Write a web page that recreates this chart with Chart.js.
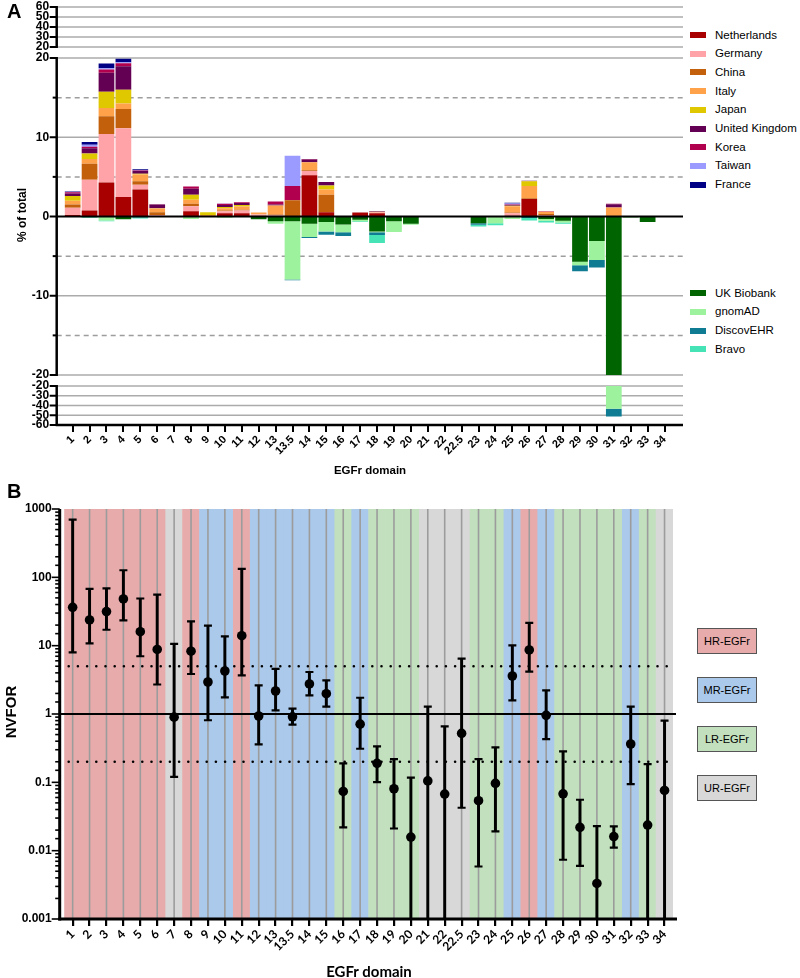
<!DOCTYPE html>
<html><head><meta charset="utf-8">
<script src="https://cdn.jsdelivr.net/npm/chart.js@4/dist/chart.umd.min.js"></script>
<style>
body{margin:0;background:#fff;width:800px;height:978px;position:relative;overflow:hidden;font-family:"Liberation Sans",Arial,sans-serif;color:#000;}
canvas{position:absolute;left:0;}
.t{position:absolute;white-space:nowrap;color:#000;}
.lg{position:absolute;left:690px;width:16px;height:6px;}
.lgt{position:absolute;left:715px;font-size:11.5px;line-height:14px;white-space:nowrap;}
.bx{position:absolute;left:697px;width:58px;height:24px;border:1px solid #555;font-size:11px;line-height:24px;text-align:center;}
</style></head><body>
<canvas id="a1" width="690" height="50" style="top:0px;width:690px;height:50px"></canvas>
<canvas id="a2" width="690" height="330" style="top:50px;width:690px;height:330px"></canvas>
<canvas id="a3" width="690" height="100" style="top:380px;width:690px;height:100px"></canvas>
<canvas id="b" width="690" height="498" style="top:480px;width:690px;height:498px"></canvas>

<div class="t" style="left:7px;top:0px;font-weight:bold;font-size:20px;">A</div>
<div class="t" style="left:22px;top:215px;font-weight:bold;font-size:12px;transform:translate(-50%,-50%) rotate(-90deg);">% of total</div>
<div class="t" style="left:370px;top:470px;font-weight:bold;font-size:11.5px;transform:translate(-50%,-50%);">EGFr domain</div>
<div id="legA"></div>
<div class="t" style="left:7px;top:480px;font-weight:bold;font-size:20px;">B</div>
<div class="t" style="left:10px;top:712px;font-weight:bold;font-size:15px;transform:translate(-50%,-50%) rotate(-90deg);">NVFOR</div>
<div class="t" style="left:369px;top:971px;font-weight:bold;font-size:15px;font-family:Lato,'Open Sans',sans-serif;transform:translate(-50%,-50%);">EGFr domain</div>
<div id="legB"></div>

<script>
Chart.defaults.font.family = "'Liberation Sans', Arial, sans-serif";
Chart.defaults.color = '#000';
Chart.defaults.animation = false;

// ---------- categories ----------
const domains = ['1','2','3','4','5','6','7','8','9','10','11','12','13','13.5','14','15','16','17','18','19','20','21','22','22.5','23','24','25','26','27','28','29','30','31','32','33','34'];

// ---------- panel A: % of total per country (positive) ----------
const countries = ['Netherlands','Germany','China','Italy','Japan','United Kingdom','Korea','Taiwan','France'];
const countryColors = ['#a80000','#ffa3a8','#c2600c','#ffa24a','#e0c800','#640054','#b0004e','#9a9aff','#000084'];
const netherlands = [0.2,0.75,4.3,2.45,3.4,0.05,0,0.65,0,0.4,0.4,0,0.05,0,5.2,0.55,0,0.5,0.4,0,0,0,0,0,0,0,0.1,2.2,0.05,0,0,0,0,0,0,0];
const germany     = [0.9,3.9,6.1,8.7,0.6,0.15,0,0.65,0,0.25,0.35,0.25,0.1,0.05,0.55,0,0,0,0.1,0,0,0,0,0,0,0,0.3,0,0.15,0,0,0,0.05,0,0,0];
const china       = [0.4,2.0,2.25,2.4,0.45,0.35,0,0.3,0.05,0.1,0.1,0,0.1,2.0,0.1,2.2,0,0,0,0,0,0,0,0,0,0,0.1,0.1,0.1,0,0,0,0,0,0,0];
const italy       = [0.5,0.6,1.05,0.7,0.85,0.45,0,0.5,0.15,0.3,0.4,0.25,1.15,0,1.0,0.65,0,0,0.1,0,0,0,0,0,0,0,0.8,1.55,0.3,0,0,0,1.1,0,0,0];
const japan       = [0.6,0.7,2.05,1.75,0.1,0.05,0,0.65,0.35,0.15,0.2,0,0,0,0,0.5,0,0,0,0,0,0,0,0,0,0,0.05,0.6,0,0,0,0,0,0,0,0];
const unitedKingdom=[0.3,0.65,2.4,2.95,0.35,0.45,0,0.75,0,0.25,0.25,0,0.1,0,0.35,0.45,0,0,0.05,0,0,0,0,0,0,0,0.1,0.05,0,0,0,0,0.4,0,0,0];
const korea       = [0.15,0.2,0.4,0.4,0.05,0.05,0,0.3,0,0.15,0.1,0,0.4,1.8,0.05,0,0,0,0,0,0,0,0,0,0,0,0.05,0,0.05,0,0,0,0.05,0,0,0];
const taiwan      = [0.05,0.25,0.15,0.1,0.05,0,0,0,0,0.05,0,0,0,3.8,0,0,0,0,0,0,0,0,0,0,0,0,0.15,0,0,0,0,0,0,0,0,0];
const france      = [0.05,0.35,0.6,0.45,0.1,0,0,0,0,0,0,0,0,0,0,0,0,0,0.05,0,0,0,0,0,0,0,0.1,0,0,0,0,0,0,0,0,0];
const countrySeries = [netherlands,germany,china,italy,japan,unitedKingdom,korea,taiwan,france];

// ---------- panel A: % of total per database (negative direction) ----------
const databases = ['UK Biobank','gnomAD','DiscovEHR','Bravo'];
const dbColors = ['#006400','#9df29d','#0f7c94','#45e3b5'];
const ukBiobank = [0,0,0,-0.35,0,0,0,0,0,0,0,-0.35,-0.6,-0.6,-0.9,-0.7,-1.0,-0.4,-1.9,-0.6,-0.9,0,0,0,-0.85,0,0,0,-0.3,-0.55,-5.7,-3.1,-20,-0.1,-0.7,0];
const gnomAD    = [-0.05,0,-0.5,0,0,0,0,-0.3,0,-0.15,0,0,-0.3,-7.35,-1.7,-1.2,-1.0,-0.2,-0.1,-1.35,-0.15,0,0,0,0,-0.85,-0.3,0,-0.25,-0.2,-0.45,-2.4,-23.3,-0.05,0,0];
const discovEHR = [0,-0.05,0,0,-0.1,0,0,0,0,0,0,0,0,-0.1,-0.1,-0.4,-0.45,0,-0.35,0,0,0,0,0,-0.2,0,0,-0.2,0,0,-0.75,-0.95,-8,0,0,0];
const bravo     = [0,-0.1,-0.1,0,-0.15,0,0,0,0,0,0,0,0,0,0,0,0,-0.1,-1.0,0,0,0,0,0,-0.2,-0.25,0,-0.3,-0.2,-0.15,0,0,0,0,0,0];
const dbSeries = [ukBiobank,gnomAD,discovEHR,bravo];

// axis segments (broken axis) of panel A
const topTicks = [20,30,40,50,60];
const mainTicks = [-20,-10,0,10,20];
const mainMinorTicks = [-15,-5,5,15];
const bottomTicks = [-60,-50,-40,-30,-20];

// ---------- panel B ----------
const nvfor   = [36.4,23.8,31.5,48.3,16.0,8.8,0.90,8.3,2.94,4.26,14.0,0.935,2.17,0.91,2.75,1.98,0.0736,0.71,0.19,0.0806,0.0158,0.105,0.0674,0.52,0.0538,0.0964,3.6,8.65,0.955,0.068,0.0219,0.00331,0.0161,0.364,0.0237,0.0761];
const upperCI = [700,68,69,127,49,56,10.6,22.7,19.6,13.7,133,2.62,4.56,1.2,4.12,3.1,0.189,1.73,0.336,0.219,0.117,1.28,0.66,6.45,0.219,0.324,10.1,21.5,2.22,0.284,0.0556,0.0229,0.0226,1.28,0.185,0.80];
// 0.00001 = lower limit below the axis floor
const lowerCI = [8.0,10.8,17.1,23.5,7.0,2.7,0.12,3.85,0.81,1.75,3.68,0.36,1.13,0.70,1.87,1.28,0.0219,0.31,0.101,0.0211,0.00001,0.00001,0.00001,0.0425,0.00587,0.0191,1.58,4.16,0.43,0.00736,0.006,0.00001,0.0111,0.0944,0.00001,0.00001];
const domainClass = ['HR','HR','HR','HR','HR','HR','UR','HR','MR','MR','HR','MR','MR','MR','MR','MR','LR','MR','LR','LR','LR','UR','UR','UR','LR','LR','MR','HR','MR','LR','LR','LR','LR','MR','LR','UR'];
const classNames = ['HR-EGFr','MR-EGFr','LR-EGFr','UR-EGFr'];
const classKeys = ['HR','MR','LR','UR'];
const classColors = {HR:'#e8abab', MR:'#abc9ea', LR:'#c2e0bd', UR:'#d8d8d8'};
const yTicksB = [0.001,0.01,0.1,1,10,100,1000];
const refSolidB = [1];
const refDottedB = [5,0.2];

// ---------- plugins ----------
const axisPluginA = {
  id: 'axisA',
  beforeDatasetsDraw(chart, args, o) {
    const {ctx, chartArea: ca, scales: {y}} = chart;
    const ax = ca.left - 7.5, xr = ca.right + 10;
    ctx.save();
    ctx.strokeStyle = '#ababab'; ctx.lineWidth = 1.5;
    (o.solid || []).forEach(v => { const py = y.getPixelForValue(v); ctx.beginPath(); ctx.moveTo(ax, py); ctx.lineTo(xr, py); ctx.stroke(); });
    ctx.setLineDash([5,4]); ctx.strokeStyle = '#9d9d9d';
    (o.dashed || []).forEach(v => { const py = y.getPixelForValue(v); ctx.beginPath(); ctx.moveTo(ax, py); ctx.lineTo(xr, py); ctx.stroke(); });
    ctx.restore();
  },
  afterDatasetsDraw(chart, args, o) {
    const {ctx, chartArea: ca, scales: {y}} = chart;
    const ax = ca.left - 7.5, xr = ca.right + 10;
    ctx.save();
    ctx.strokeStyle = '#000';
    if (o.zero) { const py = y.getPixelForValue(0); ctx.lineWidth = 2; ctx.beginPath(); ctx.moveTo(ax, py); ctx.lineTo(xr, py); ctx.stroke(); }
    if (o.xAxis) { ctx.lineWidth = 2.5; ctx.beginPath(); ctx.moveTo(ax-1, ca.bottom); ctx.lineTo(xr, ca.bottom); ctx.stroke(); }
    ctx.lineWidth = 2.5; ctx.beginPath(); ctx.moveTo(ax, ca.top - 1); ctx.lineTo(ax, ca.bottom + 1); ctx.stroke();
    ctx.lineWidth = 2;
    y.ticks.forEach(t => { const py = y.getPixelForValue(t.value); ctx.beginPath(); ctx.moveTo(ax - 7, py); ctx.lineTo(ax, py); ctx.stroke(); });
    (o.minor || []).forEach(v => { const py = y.getPixelForValue(v); ctx.beginPath(); ctx.moveTo(ax - 4, py); ctx.lineTo(ax, py); ctx.stroke(); });
    ctx.restore();
  }
};

function fixY(s) { s.width = 64.2; s.paddingTop = 0; s.paddingBottom = 0; }

function stackDatasets() {
  const ds = [];
  countrySeries.forEach((arr, i) => ds.push({label: countries[i], data: arr, backgroundColor: countryColors[i], clip: 0, barPercentage: 0.93, categoryPercentage: 1}));
  dbSeries.forEach((arr, i) => ds.push({label: databases[i], data: arr, backgroundColor: dbColors[i], clip: 0, barPercentage: 0.93, categoryPercentage: 1}));
  return ds;
}

function makeA(id, ticks, showX, padding, plOpts) {
  const xOpts = {
    stacked: true, display: showX, offset: true,
    grid: {display: true, drawOnChartArea: false, drawTicks: true, tickLength: 7, offset: false, color: '#000', lineWidth: 2},
    border: {display: false},
    ticks: {autoSkip: false, maxRotation: 45, minRotation: 45, font: {weight: 'bold', size: 11}, color: '#000', padding: 1}
  };
  if (showX) xOpts.afterFit = s => { s.height = 55; };
  return new Chart(document.getElementById(id), {
    type: 'bar',
    data: {labels: domains, datasets: stackDatasets()},
    options: {
      responsive: false, animation: false,
      layout: {padding},
      plugins: {legend: {display: false}, tooltip: {enabled: false}, axisA: plOpts},
      scales: {
        x: xOpts,
        y: {
          stacked: true, min: Math.min(...ticks), max: Math.max(...ticks),
          afterBuildTicks: s => { s.ticks = ticks.map(v => ({value: v})); },
          ticks: {font: {weight: 'bold', size: 12}, color: '#000', padding: 15, autoSkip: false},
          grid: {display: false, drawTicks: false}, border: {display: false},
          afterFit: fixY
        }
      }
    },
    plugins: [axisPluginA]
  });
}

makeA('a1', topTicks, false, {top: 7, bottom: 3, left: 0, right: 17}, {solid: topTicks});
makeA('a2', mainTicks, false, {top: 8, bottom: 5, left: 0, right: 17}, {solid: [20,10,-10,-20], dashed: mainMinorTicks, minor: mainMinorTicks, zero: true});
makeA('a3', bottomTicks, true, {top: 6, bottom: 0, left: 0, right: 17}, {solid: [-20,-30,-40,-50], xAxis: true});

// legend A (HTML)
(function(){
  let h = '';
  const topY = [35,53.7,72.4,91.1,109.8,128.5,147.2,165.9,184.6];
  countries.forEach((c, i) => {
    h += `<div class="lg" style="top:${topY[i]-3}px;background:${countryColors[i]}"></div><div class="lgt" style="top:${topY[i]-7.5}px">${c}</div>`;
  });
  const botY = [293.3,311.9,330.5,349.1];
  databases.forEach((c, i) => {
    h += `<div class="lg" style="top:${botY[i]-3}px;background:${dbColors[i]}"></div><div class="lgt" style="top:${botY[i]-7.5}px">${c}</div>`;
  });
  document.getElementById('legA').innerHTML = h;
})();

// ---------- panel B ----------
const BAND_INDEX = 4;
const plotPluginB = {
  id: 'plotB',
  afterDatasetDraw(chart, args) {
    if (args.index !== BAND_INDEX) return;
    const {ctx, chartArea: ca, scales: {x, y}} = chart;
    ctx.save();
    ctx.strokeStyle = '#9c9c9c'; ctx.lineWidth = 1.6;
    domains.forEach((d, i) => { const px = x.getPixelForValue(i); ctx.beginPath(); ctx.moveTo(px, ca.top); ctx.lineTo(px, ca.bottom); ctx.stroke(); });
    const ax = ca.left - 4.5;
    ctx.strokeStyle = '#000'; ctx.lineWidth = 2;
    refSolidB.forEach(v => { const py = y.getPixelForValue(v); ctx.beginPath(); ctx.moveTo(ax, py); ctx.lineTo(ca.right + 3, py); ctx.stroke(); });
    ctx.lineWidth = 2.6; ctx.lineCap = 'round'; ctx.setLineDash([0, 9.2]);
    refDottedB.forEach(v => { const py = y.getPixelForValue(v); ctx.beginPath(); ctx.moveTo(ax + 9, py); ctx.lineTo(ca.right, py); ctx.stroke(); });
    ctx.restore();
  },
  afterDraw(chart) {
    const {ctx, chartArea: ca, scales: {y}} = chart;
    const ax = ca.left - 4.5;
    ctx.save();
    ctx.strokeStyle = '#000';
    ctx.lineWidth = 3;
    ctx.beginPath(); ctx.moveTo(ax, ca.top); ctx.lineTo(ax, ca.bottom + 1.5); ctx.stroke();
    ctx.beginPath(); ctx.moveTo(ax - 1.5, ca.bottom); ctx.lineTo(ca.right + 4, ca.bottom); ctx.stroke();
    ctx.lineWidth = 1.6;
    y.ticks.forEach(t => {
      const lg = Math.log10(t.value);
      const major = Math.abs(lg - Math.round(lg)) < 1e-6;
      const py = y.getPixelForValue(t.value);
      ctx.beginPath(); ctx.moveTo(ax - (major ? 8 : 4.5), py); ctx.lineTo(ax, py); ctx.stroke();
    });
    ctx.restore();
  }
};

new Chart(document.getElementById('b'), {
  type: 'bar',
  data: {
    labels: domains,
    datasets: [
      {type: 'line', label: 'NVFOR', data: nvfor, showLine: false, pointRadius: 4.8, pointBackgroundColor: '#000', pointBorderColor: '#000', pointBorderWidth: 0, order: 0},
      {type: 'line', label: 'upper CI', data: upperCI, showLine: false, pointStyle: 'line', pointRadius: 4, pointBorderColor: '#000', pointBorderWidth: 2.2, order: 1, clip: 0},
      {type: 'line', label: 'lower CI', data: lowerCI, showLine: false, pointStyle: 'line', pointRadius: 4, pointBorderColor: '#000', pointBorderWidth: 2.2, order: 1, clip: 0},
      {type: 'bar', label: 'CI', data: domains.map((d, i) => [lowerCI[i], upperCI[i]]), backgroundColor: '#000', barThickness: 2.3, grouped: false, order: 2, clip: 0},
      {type: 'bar', label: 'domain class', data: domains.map(() => [yTicksB[0], yTicksB[yTicksB.length - 1]]), backgroundColor: domainClass.map(c => classColors[c]), barPercentage: 1, categoryPercentage: 1, grouped: false, order: 3, clip: 0}
    ]
  },
  options: {
    responsive: false, animation: false,
    layout: {padding: {top: 29, bottom: 0, left: 0, right: 17}},
    plugins: {legend: {display: false}, tooltip: {enabled: false}},
    scales: {
      x: {
        offset: true,
        grid: {display: true, drawOnChartArea: false, drawTicks: true, tickLength: 7, offset: false, color: '#000', lineWidth: 2.2},
        border: {display: false},
        ticks: {autoSkip: false, maxRotation: 45, minRotation: 45, font: {family: "Lato, 'Open Sans', sans-serif", weight: 'bold', size: 12}, color: '#000', padding: 1},
        afterFit: s => { s.height = 59; }
      },
      y: {
        type: 'logarithmic', min: yTicksB[0], max: yTicksB[yTicksB.length - 1],
        ticks: {
          autoSkip: false, padding: 12.5, font: {weight: 'bold', size: 12}, color: '#000',
          callback: v => { const lg = Math.log10(v); return Math.abs(lg - Math.round(lg)) < 1e-6 ? String(yTicksB.find(t => Math.abs(Math.log10(t) - lg) < 1e-6)) : ''; }
        },
        grid: {display: false, drawTicks: false}, border: {display: false},
        afterFit: fixY
      }
    }
  },
  plugins: [plotPluginB]
});

// legend B (HTML)
(function(){
  const boxTop = [628, 677, 726, 775];
  let h = '';
  classKeys.forEach((k, i) => {
    h += `<div class="bx" style="top:${boxTop[i]}px;background:${classColors[k]}">${classNames[i]}</div>`;
  });
  document.getElementById('legB').innerHTML = h;
})();
</script>
</body></html>
